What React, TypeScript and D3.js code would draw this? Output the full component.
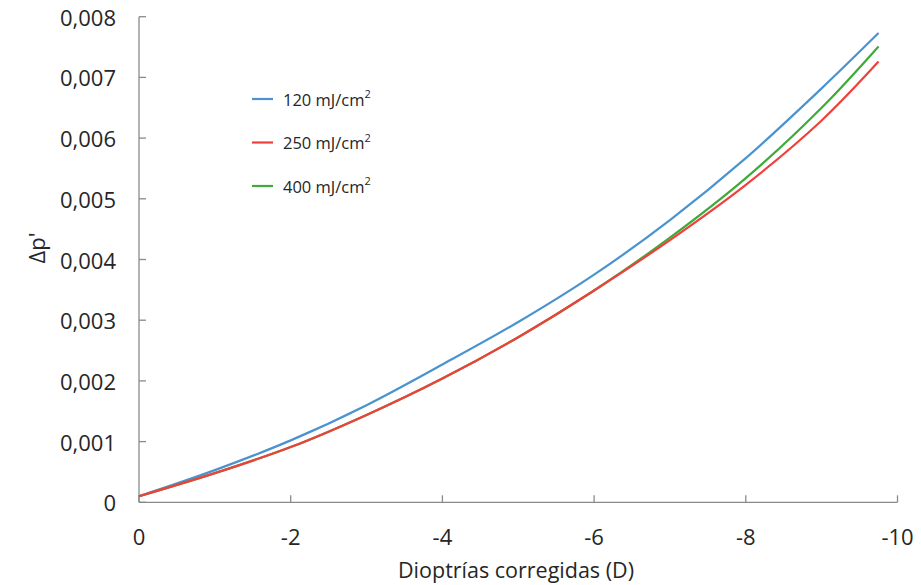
import React from "react";
import * as d3 from "d3";

const dioptrias = [0, -1, -2, -3, -4, -5, -6, -7, -8, -9, -9.75];
const serie120 = [0.0001, 0.00053, 0.00102, 0.0016, 0.00227, 0.00297, 0.00375, 0.00465, 0.00567, 0.00682, 0.00773];
const serie250 = [0.0001, 0.00048, 0.00091, 0.00144, 0.00204, 0.00272, 0.00349, 0.00432, 0.00523, 0.00629, 0.00726];
const serie400 = [0.0001, 0.00048, 0.00091, 0.00144, 0.00204, 0.00272, 0.00349, 0.00436, 0.00534, 0.0065, 0.00751];
const seriesNames = ["120 mJ/cm", "250 mJ/cm", "400 mJ/cm"];
const seriesColors = ["#4A93CF", "#F0403C", "#3EAA3A"];
const xTicks = [0, -2, -4, -6, -8, -10];
const yTicks = [0, 0.001, 0.002, 0.003, 0.004, 0.005, 0.006, 0.007, 0.008];

const W = 921;
const H = 585;
const FONT = "'Open Sans', sans-serif";

export default function App() {
  const x = d3.scaleLinear().domain([0, -10]).range([139, 897.5]);
  const y = d3.scaleLinear().domain([0, 0.008]).range([502.3, 16.7]);
  const line = d3
    .line<[number, number]>()
    .x((d) => x(d[0]))
    .y((d) => y(d[1]))
    .curve(d3.curveCatmullRom.alpha(0.5));
  const all = [serie120, serie250, serie400];
  const drawOrder = [0, 2, 1];
  const axisColor = "#8A8A8A";
  const legendY = [99, 142.5, 186];

  return (
    <svg
      width={W}
      height={H}
      style={{ position: "absolute", left: 0, top: 0, background: "#fff" }}
      fontFamily={FONT}
    >
      <rect width={W} height={H} fill="#fff" />
      {/* axes */}
      <line x1={x(0)} x2={x(0)} y1={y(0)} y2={y(0.008)} stroke={axisColor} strokeWidth={1.3} />
      <line x1={x(0)} x2={x(-10)} y1={y(0)} y2={y(0)} stroke={axisColor} strokeWidth={1.3} />
      {yTicks.map((t) => (
        <g key={"y" + t}>
          <line x1={x(0)} x2={x(0) + 7} y1={y(t)} y2={y(t)} stroke={axisColor} strokeWidth={1.3} />
          <text
            x={116}
            y={y(t)}
            textAnchor="end"
            dominantBaseline="central"
            fontSize={22}
            fill="#262626"
          >
            {t === 0 ? "0" : d3.format(".3f")(t).replace(".", ",")}
          </text>
        </g>
      ))}
      {xTicks.map((t) => (
        <g key={"x" + t}>
          <line x1={x(t)} x2={x(t)} y1={y(0)} y2={y(0) - 7} stroke={axisColor} strokeWidth={1.3} />
          <text
            x={x(t)}
            y={536}
            textAnchor="middle"
            dominantBaseline="central"
            fontSize={22}
            fill="#262626"
          >
            {t === 0 ? "0" : String(t)}
          </text>
        </g>
      ))}
      <text x={516} y={569} textAnchor="middle" dominantBaseline="central" fontSize={21.5} fill="#262626">
        Dioptrías corregidas (D)
      </text>
      <text
        transform={`translate(36,248) rotate(-90)`}
        textAnchor="middle"
        dominantBaseline="central"
        fontSize={22}
        fill="#262626"
      >
        Δp'
      </text>
      {/* series */}
      {drawOrder.map((i) => (
        <path
          key={"s" + i}
          d={line(dioptrias.map((d, k) => [d, all[i][k]] as [number, number])) || ""}
          fill="none"
          stroke={seriesColors[i]}
          strokeWidth={2.2}
        />
      ))}
      {/* legend */}
      {seriesNames.map((n, i) => (
        <g key={"l" + i}>
          <line x1={252} x2={273} y1={legendY[i]} y2={legendY[i]} stroke={seriesColors[i]} strokeWidth={2.2} />
          <text x={283} y={legendY[i]} dominantBaseline="central" fontSize={16.5} fill="#262626">
            {n}
            <tspan dy={-6} fontSize={11}>
              2
            </tspan>
          </text>
        </g>
      ))}
    </svg>
  );
}
